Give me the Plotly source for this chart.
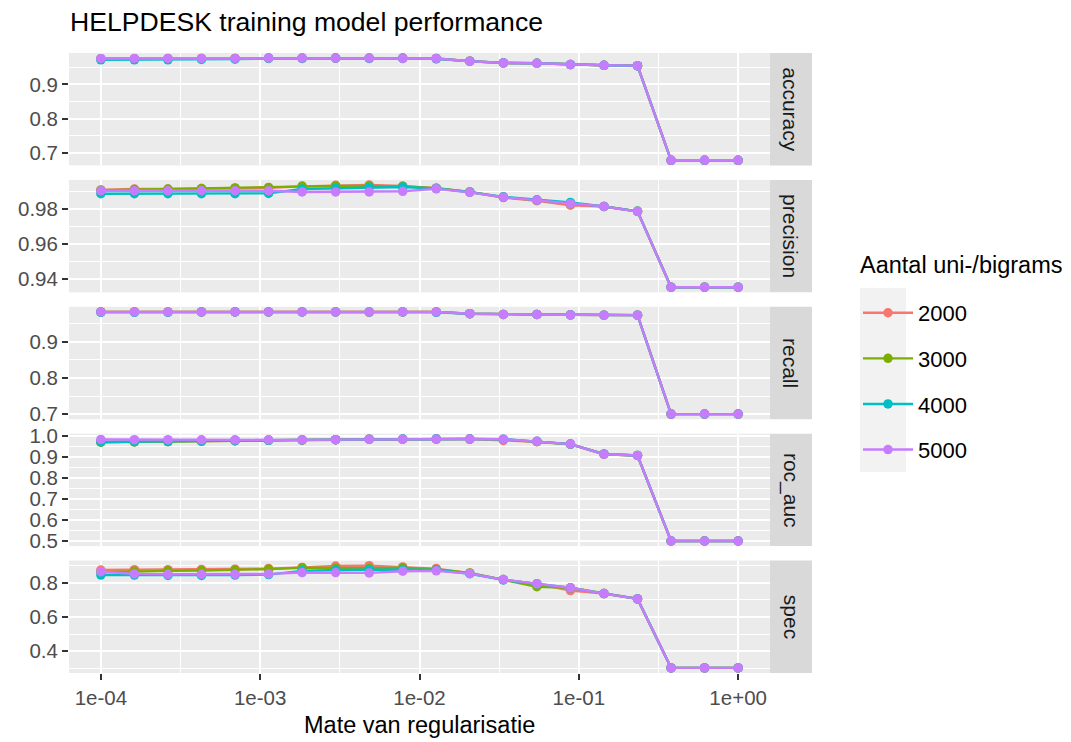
import plotly.graph_objects as go

W, H = 1071, 742

# ---------------- data ----------------
penalty = [1.000e-04, 1.624e-04, 2.637e-04, 4.281e-04, 6.952e-04, 1.129e-03, 1.833e-03,
           2.976e-03, 4.833e-03, 7.848e-03, 1.274e-02, 2.069e-02, 3.360e-02, 5.456e-02,
           8.859e-02, 1.438e-01, 2.336e-01, 3.793e-01, 6.158e-01, 1.000e+00]
groups = ["2000", "3000", "4000", "5000"]
metrics = ["accuracy", "precision", "recall", "roc_auc", "spec"]
x_tick_vals = [1e-04, 1e-03, 1e-02, 1e-01, 1e+00]
x_tick_text = ["1e-04", "1e-03", "1e-02", "1e-01", "1e+00"]

acc_2000 = [0.975, 0.975, 0.976, 0.976, 0.976, 0.977, 0.977, 0.977, 0.977, 0.977, 0.976, 0.968, 0.963, 0.962, 0.958, 0.956, 0.955, 0.678, 0.678, 0.678]
acc_3000 = [0.975, 0.975, 0.975, 0.976, 0.976, 0.977, 0.977, 0.977, 0.977, 0.977, 0.976, 0.968, 0.963, 0.962, 0.958, 0.956, 0.955, 0.678, 0.678, 0.678]
acc_4000 = [0.972, 0.972, 0.972, 0.973, 0.974, 0.976, 0.976, 0.977, 0.976, 0.976, 0.975, 0.968, 0.963, 0.962, 0.958, 0.956, 0.954, 0.678, 0.678, 0.678]
acc_5000 = [0.976, 0.976, 0.976, 0.976, 0.976, 0.977, 0.977, 0.977, 0.977, 0.976, 0.976, 0.968, 0.963, 0.962, 0.958, 0.956, 0.955, 0.678, 0.678, 0.678]

prec_2000 = [0.9910, 0.9915, 0.9915, 0.9918, 0.9920, 0.9922, 0.9930, 0.9936, 0.9938, 0.9932, 0.9920, 0.9898, 0.9866, 0.9848, 0.9822, 0.9815, 0.9787, 0.9352, 0.9352, 0.9352]
prec_3000 = [0.9908, 0.9912, 0.9915, 0.9918, 0.9921, 0.9924, 0.9932, 0.9933, 0.9933, 0.9930, 0.9920, 0.9898, 0.9868, 0.9850, 0.9830, 0.9815, 0.9787, 0.9352, 0.9352, 0.9352]
prec_4000 = [0.9888, 0.9888, 0.9888, 0.9888, 0.9888, 0.9890, 0.9915, 0.9920, 0.9925, 0.9927, 0.9918, 0.9897, 0.9870, 0.9853, 0.9838, 0.9815, 0.9787, 0.9352, 0.9352, 0.9352]
prec_5000 = [0.9905, 0.9905, 0.9905, 0.9905, 0.9905, 0.9905, 0.9898, 0.9898, 0.9898, 0.9902, 0.9916, 0.9896, 0.9868, 0.9851, 0.9831, 0.9815, 0.9786, 0.9352, 0.9352, 0.9352]

rec_2000 = [0.983, 0.983, 0.983, 0.983, 0.983, 0.983, 0.983, 0.983, 0.982, 0.983, 0.983, 0.978, 0.976, 0.976, 0.975, 0.974, 0.974, 0.700, 0.700, 0.700]
rec_3000 = [0.983, 0.983, 0.983, 0.983, 0.983, 0.983, 0.983, 0.983, 0.983, 0.983, 0.983, 0.978, 0.976, 0.976, 0.975, 0.974, 0.974, 0.700, 0.700, 0.700]
rec_4000 = [0.982, 0.982, 0.982, 0.983, 0.983, 0.983, 0.983, 0.983, 0.983, 0.983, 0.982, 0.978, 0.976, 0.976, 0.975, 0.974, 0.974, 0.700, 0.700, 0.700]
rec_5000 = [0.983, 0.983, 0.983, 0.983, 0.983, 0.983, 0.983, 0.983, 0.983, 0.983, 0.983, 0.978, 0.976, 0.976, 0.975, 0.974, 0.974, 0.700, 0.700, 0.700]

roc_2000 = [0.970, 0.971, 0.972, 0.974, 0.976, 0.978, 0.979, 0.981, 0.983, 0.983, 0.984, 0.984, 0.977, 0.971, 0.960, 0.912, 0.906, 0.500, 0.500, 0.500]
roc_3000 = [0.969, 0.970, 0.972, 0.974, 0.976, 0.978, 0.979, 0.981, 0.983, 0.983, 0.984, 0.984, 0.982, 0.972, 0.959, 0.912, 0.906, 0.500, 0.500, 0.500]
roc_4000 = [0.970, 0.971, 0.972, 0.974, 0.976, 0.978, 0.980, 0.981, 0.983, 0.984, 0.985, 0.984, 0.983, 0.973, 0.960, 0.913, 0.906, 0.500, 0.500, 0.500]
roc_5000 = [0.982, 0.981, 0.981, 0.980, 0.980, 0.980, 0.980, 0.981, 0.983, 0.983, 0.984, 0.984, 0.983, 0.973, 0.960, 0.912, 0.906, 0.500, 0.500, 0.500]

spec_2000 = [0.875, 0.877, 0.877, 0.878, 0.880, 0.883, 0.890, 0.898, 0.900, 0.893, 0.883, 0.856, 0.819, 0.794, 0.755, 0.737, 0.706, 0.303, 0.303, 0.303]
spec_3000 = [0.862, 0.868, 0.870, 0.872, 0.875, 0.880, 0.888, 0.885, 0.885, 0.888, 0.878, 0.858, 0.819, 0.777, 0.771, 0.737, 0.706, 0.303, 0.303, 0.303]
spec_4000 = [0.845, 0.845, 0.843, 0.843, 0.845, 0.848, 0.870, 0.875, 0.878, 0.878, 0.875, 0.853, 0.817, 0.794, 0.771, 0.737, 0.706, 0.303, 0.303, 0.303]
spec_5000 = [0.865, 0.852, 0.850, 0.850, 0.850, 0.852, 0.860, 0.860, 0.858, 0.868, 0.870, 0.854, 0.819, 0.794, 0.771, 0.737, 0.706, 0.303, 0.303, 0.303]

y_major = {
    "accuracy": [0.7, 0.8, 0.9],
    "precision": [0.94, 0.96, 0.98],
    "recall": [0.7, 0.8, 0.9],
    "roc_auc": [0.5, 0.6, 0.7, 0.8, 0.9, 1.0],
    "spec": [0.4, 0.6, 0.8],
}
y_minor = {
    "accuracy": [0.65, 0.75, 0.85, 0.95],
    "precision": [0.93, 0.95, 0.97, 0.99],
    "recall": [0.75, 0.85, 0.95],
    "roc_auc": [0.55, 0.65, 0.75, 0.85, 0.95],
    "spec": [0.3, 0.5, 0.7, 0.9],
}
y_fmt = {"accuracy": ".1f", "precision": ".2f", "recall": ".1f", "roc_auc": ".1f", "spec": ".1f"}

series = {
    "accuracy": [acc_2000, acc_3000, acc_4000, acc_5000],
    "precision": [prec_2000, prec_3000, prec_4000, prec_5000],
    "recall": [rec_2000, rec_3000, rec_4000, rec_5000],
    "roc_auc": [roc_2000, roc_3000, roc_4000, roc_5000],
    "spec": [spec_2000, spec_3000, spec_4000, spec_5000],
}

# ---------------- style ----------------
colors = ["#F8766D", "#7CAE00", "#00BFC4", "#C77CFF"]
FONT = "Liberation Sans, Arial, sans-serif"
TICK_SIZE = 20.5
panel_left, panel_right = 69, 770
strip_right = 812
panel_top, panel_bottom, gap = 53, 673, 14.5
n = len(metrics)
ph = (panel_bottom - panel_top - gap * (n - 1)) / n

fig = go.Figure()
layout = dict(
    width=W, height=H,
    margin=dict(l=0, r=0, t=0, b=0),
    paper_bgcolor="white",
    plot_bgcolor="#EBEBEB",
    font=dict(family=FONT, color="#000000"),
    showlegend=True,
)

shapes = []
annotations = []
for i, m in enumerate(metrics):
    r = i + 1
    xa = "x" if r == 1 else f"x{r}"
    ya = "y" if r == 1 else f"y{r}"
    top_px = panel_top + i * (ph + gap)
    bot_px = top_px + ph
    ydom = [1 - bot_px / H, 1 - top_px / H]

    for g, col, vals in zip(groups, colors, series[m]):
        fig.add_trace(go.Scatter(
            x=penalty, y=vals, xaxis=xa, yaxis=ya,
            mode="lines+markers", name=g, legendgroup=g,
            showlegend=(r == 1),
            line=dict(color=col, width=2.4),
            marker=dict(color=col, size=9.5),
        ))

    allv = [v for s in series[m] for v in s]
    lo, hi = min(allv), max(allv)
    pad = (hi - lo) * 0.05

    is_bottom = (r == n)
    xkey = "xaxis" if r == 1 else f"xaxis{r}"
    ykey = "yaxis" if r == 1 else f"yaxis{r}"
    layout[xkey] = dict(
        type="log", range=[-4.2, 0.2],
        domain=[panel_left / W, panel_right / W],
        anchor=ya,
        tickmode="array", tickvals=x_tick_vals, ticktext=x_tick_text,
        showticklabels=is_bottom,
        ticks="outside" if is_bottom else "",
        ticklen=6, tickwidth=1.6, tickcolor="#333333",
        tickfont=dict(size=TICK_SIZE, color="#4D4D4D", family=FONT),
        showgrid=True, gridcolor="white", gridwidth=1.7,
        minor=dict(tickmode="array", tickvals=[10 ** -3.5, 10 ** -2.5, 10 ** -1.5, 10 ** -0.5],
                   showgrid=True, gridcolor="white", gridwidth=0.8, ticks=""),
        zeroline=False, showline=False, automargin=False,
    )
    if r != 1:
        layout[xkey]["matches"] = "x"
    layout[ykey] = dict(
        domain=ydom, anchor=xa,
        range=[lo - pad, hi + pad],
        tickmode="array", tickvals=y_major[m], tickformat=y_fmt[m],
        ticks="outside", ticklen=6, tickwidth=1.6, tickcolor="#333333",
        tickfont=dict(size=TICK_SIZE, color="#4D4D4D", family=FONT),
        showgrid=True, gridcolor="white", gridwidth=1.7,
        minor=dict(tickmode="array", tickvals=y_minor[m], showgrid=True,
                   gridcolor="white", gridwidth=0.8, ticks=""),
        zeroline=False, showline=False, automargin=False,
    )

    # facet strip
    shapes.append(dict(type="rect", xref="paper", yref="paper",
                       x0=panel_right / W, x1=strip_right / W, y0=ydom[0], y1=ydom[1],
                       fillcolor="#D9D9D9", line=dict(width=0), layer="below"))
    annotations.append(dict(text=m, xref="paper", yref="paper",
                            x=(panel_right + strip_right) / 2 / W, y=(ydom[0] + ydom[1]) / 2,
                            xanchor="center", yanchor="middle", textangle=90, showarrow=False,
                            font=dict(size=21, color="#1A1A1A", family=FONT)))

# legend key background
shapes.append(dict(type="rect", xref="paper", yref="paper",
                   x0=860 / W, x1=906 / W, y0=1 - 472 / H, y1=1 - 288 / H,
                   fillcolor="#F2F2F2", line=dict(width=0), layer="below"))

# x axis title
annotations.append(dict(text="Mate van regularisatie", xref="paper", yref="paper",
                        x=(panel_left + panel_right) / 2 / W, y=1 - 725 / H,
                        xanchor="center", yanchor="middle", showarrow=False,
                        font=dict(size=23.5, color="#000000", family=FONT)))

layout["shapes"] = shapes
layout["annotations"] = annotations
layout["title"] = dict(text="HELPDESK training model performance",
                       x=70 / W, xanchor="left", xref="paper",
                       y=1 - 22 / H, yanchor="middle", yref="container",
                       font=dict(size=26.6, color="#000000", family=FONT))
layout["legend"] = dict(
    x=858 / W, y=1 - 254 / H, xanchor="left", yanchor="top",
    bgcolor="rgba(0,0,0,0)",
    title=dict(text="<span style='font-size:23.5px'>Aantal uni-/bigrams</span><br> ",
               font=dict(size=14.6, color="#000000", family=FONT)),
    font=dict(size=22, color="#000000", family=FONT),
    tracegroupgap=14,
    itemwidth=50,
)

fig.update_layout(**layout)
fig.write_html("out.html")
